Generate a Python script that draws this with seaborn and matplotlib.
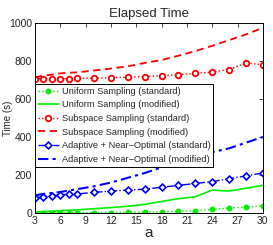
import matplotlib
matplotlib.use("Agg")
import matplotlib.pyplot as plt
import seaborn as sns
import pandas as pd

x = [3, 4, 5, 6, 7, 8, 10, 12, 14, 16, 18, 20, 22, 24, 26, 28, 30]
uniform_std = [0, 0, 0, 1, 1, 1, 2, 2, 3, 4, 6, 8, 12, 18, 25, 30, 38]
uniform_mod = [5, 7, 9, 12, 14, 16, 22, 28, 35, 45, 60, 75, 85, 120, 115, 130, 145]
subspace_std = [705, 706, 707, 707, 707, 708, 710, 712, 715, 718, 722, 728, 735, 742, 755, 790, 780]
subspace_mod = [715, 722, 728, 735, 738, 740, 750, 760, 772, 790, 805, 828, 852, 880, 910, 940, 975]
adaptive_std = [80, 85, 90, 95, 98, 100, 108, 115, 120, 125, 135, 145, 155, 165, 180, 195, 210]
adaptive_mod = [92, 100, 105, 110, 118, 125, 140, 160, 185, 210, 240, 265, 290, 320, 340, 370, 400]
labels = ["Uniform Sampling (standard)", "Uniform Sampling (modified)",
          "Subspace Sampling (standard)", "Subspace Sampling (modified)",
          "Adaptive + Near\u2212Optimal (standard)", "Adaptive + Near\u2212Optimal (modified)"]
xticks = [3, 6, 9, 12, 15, 18, 21, 24, 27, 30]
yticks = [0, 200, 400, 600, 800, 1000]

sns.set_style("white")
plt.rcParams['font.family'] = ['Liberation Sans', 'DejaVu Sans']

df = pd.DataFrame({"a": x, "us": uniform_std, "um": uniform_mod, "ss": subspace_std,
                   "sm": subspace_mod, "as": adaptive_std, "am": adaptive_mod})

fig = plt.figure(figsize=(2.73, 2.45), dpi=100)
ax = fig.add_axes([0.128, 0.131, 0.835, 0.775])

sns.lineplot(data=df, x="a", y="us", ax=ax, color="#00ee00", linestyle=":", marker="o",
             markersize=3.5, markeredgecolor="#00ee00", label=labels[0], lw=1)
sns.lineplot(data=df, x="a", y="um", ax=ax, color="#00ee00", linestyle="-", label=labels[1], lw=1.2)
sns.lineplot(data=df, x="a", y="ss", ax=ax, color="red", linestyle=":", marker="o",
             markersize=4, markerfacecolor="white", markeredgecolor="red", markeredgewidth=1.3,
             label=labels[2], lw=1)
sns.lineplot(data=df, x="a", y="sm", ax=ax, color="red", linestyle=(0, (4, 2.5)), label=labels[3], lw=1.3)
sns.lineplot(data=df, x="a", y="as", ax=ax, color="blue", linestyle="-.", marker="D",
             markersize=3.5, markerfacecolor="white", markeredgecolor="blue", markeredgewidth=1.2,
             label=labels[4], lw=1)
sns.lineplot(data=df, x="a", y="am", ax=ax, color="blue", linestyle=(0, (5, 2, 1.5, 2)), label=labels[5], lw=1.5)

ax.set_xlim(3, 30)
ax.set_ylim(0, 1000)
ax.set_xticks(xticks)
ax.set_yticks(yticks)
ax.tick_params(direction="in", top=True, right=True, length=3, labelsize=7.5, pad=2, width=0.6)
ax.set_title("Elapsed Time", fontsize=9.5, pad=4)
ax.set_xlabel("a", fontsize=11, labelpad=0)
ax.set_ylabel("Time (s)", fontsize=7)
ax.yaxis.set_label_coords(-0.095, 0.5)
for s in ax.spines.values():
    s.set_color("black")
    s.set_linewidth(0.7)

leg = ax.legend(loc="upper left", bbox_to_anchor=(0.0, 0.679), fontsize=6.7, frameon=True,
                fancybox=False, borderaxespad=0, handlelength=2.3, handletextpad=0.3,
                labelspacing=0.5, borderpad=0.3)
leg.get_frame().set_edgecolor("black")
leg.get_frame().set_linewidth(0.7)
leg.get_frame().set_alpha(1)

fig.savefig("out.png", dpi=100)
